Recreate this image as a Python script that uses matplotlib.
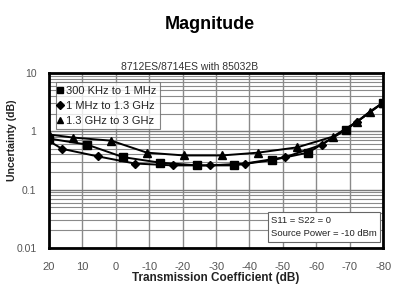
import matplotlib
matplotlib.use("Agg")
import matplotlib.pyplot as plt
from matplotlib.ticker import LogLocator, NullFormatter, FixedLocator

plt.rcParams['font.family'] = ['Liberation Sans', 'DejaVu Sans']

# data
sq_x = [20, 8.6, -2.2, -13.2, -24.3, -35.4, -46.8, -57.5, -69, -80]
sq_y = [0.75, 0.59, 0.36, 0.29, 0.26, 0.26, 0.32, 0.43, 1.07, 3.1]

di_x = [20, 16.1, 5.3, -5.7, -17.1, -28.2, -38.7, -50.7, -61.7, -72.2, -80]
di_y = [0.68, 0.50, 0.37, 0.28, 0.26, 0.26, 0.28, 0.36, 0.59, 1.46, 3.1]

tr_x = [20, 12.8, 1.4, -9.3, -20.4, -31.8, -42.6, -54.3, -65, -72.2, -76, -80]
tr_y = [0.88, 0.78, 0.69, 0.43, 0.385, 0.385, 0.43, 0.53, 0.81, 1.46, 2.17, 3.1]

x_ticks = [20, 10, 0, -10, -20, -30, -40, -50, -60, -70, -80]
y_ticks = [0.01, 0.1, 1, 10]
y_labels = ['0.01', '0.1', '1', '10']

fig = plt.figure(figsize=(3.95, 2.87), dpi=100)
ax = fig.add_axes([0.124, 0.136, 0.846, 0.610])

ax.set_yscale('log')
ax.set_xlim(20, -80)
ax.set_ylim(0.01, 10)

# grid
ax.xaxis.set_major_locator(FixedLocator(x_ticks))
ax.yaxis.set_major_locator(FixedLocator(y_ticks))
ax.yaxis.set_minor_locator(LogLocator(base=10, subs=range(2, 10)))
ax.yaxis.set_minor_formatter(NullFormatter())
ax.set_yticklabels(y_labels)
ax.set_xticklabels([str(t) for t in x_ticks])
ax.grid(True, which='major', axis='x', color='#8a8a8a', lw=1.0)
ax.grid(True, which='major', axis='y', color='#7a7a7a', lw=1.0)
ax.grid(True, which='minor', axis='y', color='#8a8a8a', lw=0.8)
ax.set_axisbelow(True)

l1, = ax.plot(sq_x, sq_y, color='black', lw=1.4, marker='s', ms=5.5)
l2, = ax.plot(di_x, di_y, color='black', lw=1.4, marker='D', ms=4.5)
l3, = ax.plot(tr_x, tr_y, color='black', lw=1.4, marker='^', ms=5.5)

for s in ax.spines.values():
    s.set_linewidth(2.0)
ax.tick_params(which='both', length=0, labelsize=8, colors='#555555')
ax.tick_params(axis='x', pad=10)
ax.tick_params(axis='y', pad=9, labelsize=7.5)

leg = ax.legend([l1, l2, l3],
                ['300 KHz to 1 MHz', '1 MHz to 1.3 GHz', '1.3 GHz to 3 GHz'],
                loc='upper left', bbox_to_anchor=(0.02, 0.95),
                fontsize=8, frameon=True, fancybox=False,
                handlelength=0, handletextpad=0.6, markerscale=0.9,
                borderpad=0.35, labelspacing=0.45, borderaxespad=0)
leg.get_frame().set_edgecolor('#666666')
leg.get_frame().set_linewidth(0.8)
for h in leg.legend_handles:
    h.set_linestyle('none')
for t in leg.get_texts():
    t.set_color('#222222')

ax.text(0.665, 0.055, 'S11 = S22 = 0\nSource Power = -10 dBm',
        transform=ax.transAxes, fontsize=6.8, linespacing=1.65,
        ha='left', va='bottom', color='#222222',
        bbox=dict(boxstyle='square,pad=0.35', fc='white', ec='#666666', lw=0.8))

fig.text(190 / 395, 1 - 67 / 287, '8712ES/8714ES with 85032B', fontsize=7.5,
         ha='center', va='center', color='#333333')
fig.text(210 / 395, 1 - 29 / 287, 'Magnitude', fontsize=13, fontweight='bold',
         ha='center', va='baseline')
ax.set_xlabel('Transmission Coefficient (dB)', fontsize=8.5, fontweight='bold',
              labelpad=0, color='#222222')
ax.set_ylabel('Uncertainty (dB)', fontsize=7.6, fontweight='bold', color='#222222')
ax.yaxis.set_label_coords(-0.095, 0.617)

fig.savefig('out.png', dpi=100)
